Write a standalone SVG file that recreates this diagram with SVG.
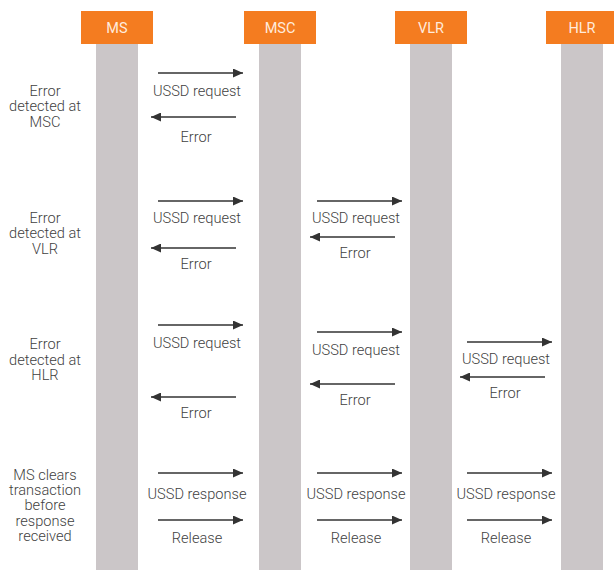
<svg xmlns="http://www.w3.org/2000/svg" width="614" height="570" viewBox="0 0 614 570">
  <style>
    .hdr { fill: #F47C20; }
    .bar { fill: #CBC6C8; }
    .hdr-t { font-family: Roboto, "Liberation Sans", sans-serif; font-size: 14.5px; fill: #FFEBDD; text-anchor: middle; }
    .lbl { font-family: Roboto, "Liberation Sans", sans-serif; font-size: 14.6px; font-weight: 300; fill: #3F3F3F; text-anchor: middle; }
    .msg { stroke: #333; stroke-width: 1.5; fill: none; marker-end: url(#head); }
  </style>
  <defs>
    <marker id="head" markerUnits="userSpaceOnUse" markerWidth="10" markerHeight="9" refX="10" refY="4.5" orient="auto">
      <path d="M0,0 L10,4.5 L0,9 Z" fill="#333"/>
    </marker>
  </defs>
  <rect width="614" height="570" fill="#fff"/>

  <!-- lifelines -->
  <g id="ms">
    <rect class="bar" x="96" y="44" width="42" height="526"/>
    <rect class="hdr" x="81" y="11" width="72" height="33"/>
    <text class="hdr-t" x="117" y="33">MS</text>
  </g>
  <g id="msc">
    <rect class="bar" x="259" y="44" width="42" height="526"/>
    <rect class="hdr" x="244" y="11" width="72" height="33"/>
    <text class="hdr-t" x="280" y="33">MSC</text>
  </g>
  <g id="vlr">
    <rect class="bar" x="410" y="44" width="42" height="526"/>
    <rect class="hdr" x="395" y="11" width="72" height="33"/>
    <text class="hdr-t" x="431" y="33">VLR</text>
  </g>
  <g id="hlr">
    <rect class="bar" x="561" y="44" width="42" height="526"/>
    <rect class="hdr" x="546" y="11" width="72" height="33"/>
    <text class="hdr-t" x="582" y="33">HLR</text>
  </g>

  <!-- case descriptions -->
  <g id="case-msc">
    <text class="lbl" x="45" y="96">Error</text>
    <text class="lbl" x="45" y="111">detected at</text>
    <text class="lbl" x="45" y="127">MSC</text>
  </g>
  <g id="case-vlr">
    <text class="lbl" x="45" y="223">Error</text>
    <text class="lbl" x="45" y="238">detected at</text>
    <text class="lbl" x="45" y="254">VLR</text>
  </g>
  <g id="case-hlr">
    <text class="lbl" x="45" y="349">Error</text>
    <text class="lbl" x="45" y="365">detected at</text>
    <text class="lbl" x="45" y="380">HLR</text>
  </g>
  <g id="case-clear">
    <text class="lbl" x="45" y="480">MS clears</text>
    <text class="lbl" x="45" y="495">transaction</text>
    <text class="lbl" x="45" y="510">before</text>
    <text class="lbl" x="45" y="526">response</text>
    <text class="lbl" x="45" y="541">received</text>
  </g>

  <!-- messages -->
  <g id="connectors">
    <!-- error at MSC -->
    <line class="msg" x1="158" y1="73" x2="243" y2="73"/>
    <text class="lbl" x="197" y="96">USSD request</text>
    <line class="msg" x1="236" y1="117" x2="151" y2="117"/>
    <text class="lbl" x="196" y="142">Error</text>

    <!-- error at VLR -->
    <line class="msg" x1="158" y1="201" x2="243" y2="201"/>
    <text class="lbl" x="197" y="223">USSD request</text>
    <line class="msg" x1="317" y1="201" x2="402" y2="201"/>
    <text class="lbl" x="356" y="223">USSD request</text>
    <line class="msg" x1="395" y1="237" x2="310" y2="237"/>
    <text class="lbl" x="355" y="258">Error</text>
    <line class="msg" x1="236" y1="248" x2="151" y2="248"/>
    <text class="lbl" x="196" y="269">Error</text>

    <!-- error at HLR -->
    <line class="msg" x1="158" y1="325" x2="243" y2="325"/>
    <text class="lbl" x="197" y="348">USSD request</text>
    <line class="msg" x1="317" y1="332" x2="402" y2="332"/>
    <text class="lbl" x="356" y="355">USSD request</text>
    <line class="msg" x1="467" y1="342" x2="552" y2="342"/>
    <text class="lbl" x="506" y="364">USSD request</text>
    <line class="msg" x1="545" y1="377" x2="460" y2="377"/>
    <text class="lbl" x="505" y="398">Error</text>
    <line class="msg" x1="395" y1="384" x2="310" y2="384"/>
    <text class="lbl" x="355" y="405">Error</text>
    <line class="msg" x1="236" y1="397" x2="151" y2="397"/>
    <text class="lbl" x="196" y="418">Error</text>

    <!-- MS clears transaction -->
    <line class="msg" x1="158" y1="473" x2="243" y2="473"/>
    <text class="lbl" x="197" y="499">USSD response</text>
    <line class="msg" x1="317" y1="473" x2="402" y2="473"/>
    <text class="lbl" x="356" y="499">USSD response</text>
    <line class="msg" x1="467" y1="473" x2="552" y2="473"/>
    <text class="lbl" x="506" y="499">USSD response</text>
    <line class="msg" x1="158" y1="520" x2="243" y2="520"/>
    <text class="lbl" x="197" y="543">Release</text>
    <line class="msg" x1="317" y1="520" x2="402" y2="520"/>
    <text class="lbl" x="356" y="543">Release</text>
    <line class="msg" x1="467" y1="520" x2="552" y2="520"/>
    <text class="lbl" x="506" y="543">Release</text>
  </g>
</svg>
